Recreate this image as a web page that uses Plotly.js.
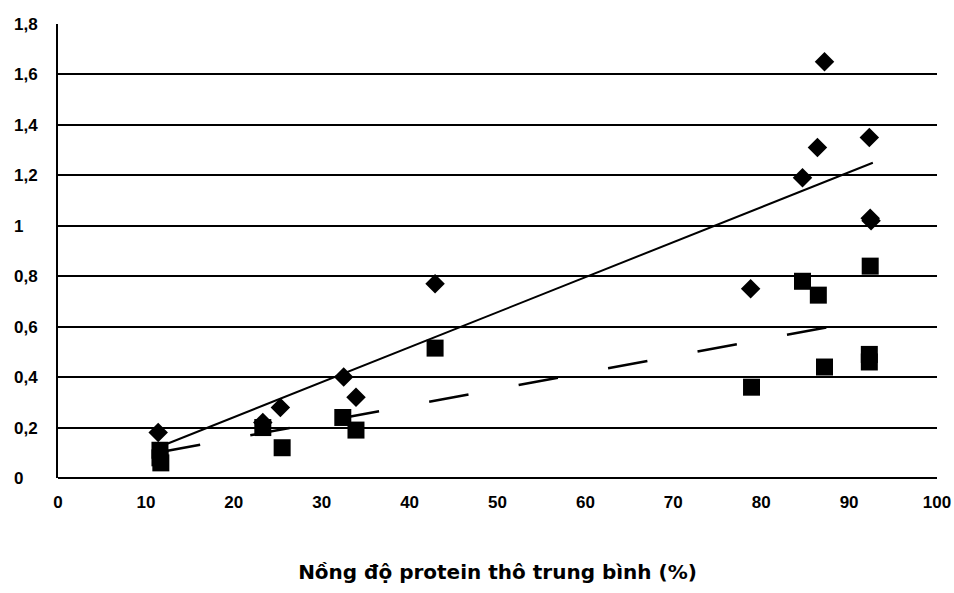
<!DOCTYPE html>
<html>
<head>
<meta charset="utf-8">
<script src="https://cdn.plot.ly/plotly-3.0.1.min.js"></script>
<style>html,body{margin:0;padding:0;background:#fff;}#chart{width:954px;height:593px;}</style>
</head>
<body>
<div id="chart"></div>
<script>
// Series 1 (diamonds)
const diamondX = [11.4, 23.3, 25.3, 32.5, 33.9, 42.9, 78.8, 84.7, 86.4, 87.2, 92.3, 92.4, 92.5];
const diamondY = [0.18, 0.22, 0.28, 0.40, 0.32, 0.77, 0.75, 1.19, 1.31, 1.65, 1.35, 1.03, 1.02];
// Series 2 (squares)
const squareX = [11.6, 11.6, 11.7, 23.3, 25.5, 32.4, 33.9, 42.9, 78.9, 84.7, 86.5, 87.2, 92.4, 92.3, 92.3];
const squareY = [0.11, 0.08, 0.06, 0.20, 0.12, 0.24, 0.19, 0.515, 0.36, 0.78, 0.725, 0.44, 0.84, 0.49, 0.46];
// Trend lines
const trend1X = [12.0, 92.7];
const trend1Y = [0.13, 1.25];
const trend2X = [11.7, 92.5];
const trend2Y = [0.103, 0.63];
// Axis ticks
const yTickVals = [0, 0.2, 0.4, 0.6, 0.8, 1, 1.2, 1.4, 1.6, 1.8];
const yTickText = ["0\u2008\u2007", "0,2", "0,4", "0,6", "0,8", "1\u2008\u2007", "1,2", "1,4", "1,6", "1,8"];
const xTickVals = [0, 10, 20, 30, 40, 50, 60, 70, 80, 90, 100];
const xTitle = "Nồng độ protein thô trung bình (%)";

const traces = [
  {x: trend1X, y: trend1Y, mode: 'lines', line: {color: '#000', width: 2}, showlegend: false, hoverinfo: 'skip'},
  {x: trend2X, y: trend2Y, mode: 'lines', line: {color: '#000', width: 2.5, dash: '40px,51px'}, showlegend: false, hoverinfo: 'skip'},
  {x: diamondX, y: diamondY, mode: 'markers', marker: {symbol: 'diamond', size: 15, color: '#000'}, showlegend: false},
  {x: squareX, y: squareY, mode: 'markers', marker: {symbol: 'square', size: 17, color: '#000'}, showlegend: false}
];

const layout = {
  width: 954, height: 593,
  margin: {l: 58, r: 17, t: 24, b: 115},
  paper_bgcolor: '#fff', plot_bgcolor: '#fff',
  font: {family: 'Liberation Sans, Arial, sans-serif', color: '#000'},
  showlegend: false,
  xaxis: {
    range: [0, 100], tickvals: xTickVals, ticks: '', showgrid: false, zeroline: false,
    showline: false, tickfont: {size: 17, family: 'Liberation Sans', weight: 'bold'},
    ticklabelstandoff: 12,
    title: {text: xTitle, font: {size: 20, family: 'DejaVu Sans', weight: 'bold'}, standoff: 53}
  },
  yaxis: {
    range: [0, 1.8], tickvals: yTickVals, ticktext: yTickText, ticks: '',
    showgrid: true, gridcolor: '#000', gridwidth: 2, zeroline: true, zerolinecolor: '#000', zerolinewidth: 2,
    showline: true, linecolor: '#000', linewidth: 2, mirror: false,
    tickfont: {size: 17, family: 'Liberation Sans', weight: 'bold'}, ticklabelstandoff: 15
  }
};
Plotly.newPlot('chart', traces, layout, {displayModeBar: false, staticPlot: true});
</script>
</body>
</html>
